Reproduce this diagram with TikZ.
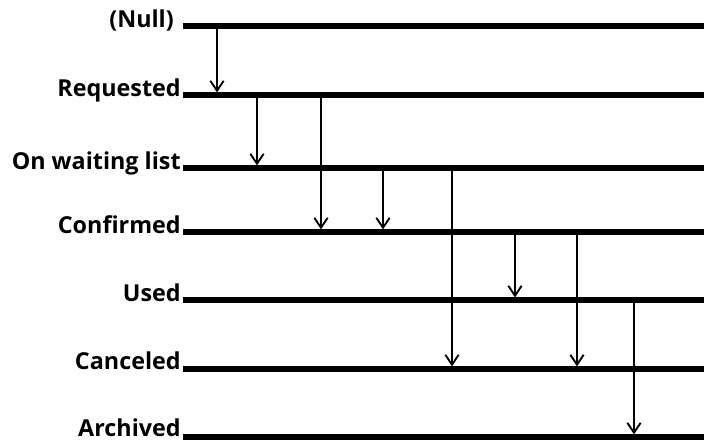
\documentclass[tikz,border=0pt]{standalone}
\usepackage{fontspec}
\setmainfont{Open Sans}
\usetikzlibrary{arrows.meta}
\definecolor{ink}{RGB}{0,0,0}
\tikzset{
  every picture/.style={color=ink, x=0.75pt, y=-0.75pt},
  state/.style={anchor=base east, inner sep=0pt, font=\bfseries\fontsize{17.5pt}{20pt}\selectfont},
  track/.style={line width=3.8pt},
  flow/.style={-{Straight Barb[length=7.5pt,width=10pt,line width=1.4pt]}, line width=1.4pt, shorten <=-1.5pt},
}

\begin{document}
\begin{tikzpicture}
  \useasboundingbox (0,0) rectangle (704,441);
  \coordinate (rightend) at (704,0);
  \node[state] (tnul) at (174,28) {(Null)};
  \node[state] (treq) at (181,97) {Requested};
  \node[state] (twait) at (181,170) {On waiting list};
  \node[state] (tconf) at (181,234) {Confirmed};
  \node[state] (tused) at (181,302) {Used};
  \node[state] (tcanc) at (181,370) {Canceled};
  \node[state] (tarch) at (181,437) {Archived};
  \coordinate (nul) at (183,26);
  \coordinate (req) at (183,95);
  \coordinate (wait) at (183,168);
  \coordinate (conf) at (183,232);
  \coordinate (used) at (183,300);
  \coordinate (canc) at (183,369);
  \coordinate (arch) at (183,437);
  \foreach \s in {nul,req,wait,conf,used,canc,arch}
    \draw[track] (\s) -- (\s -| rightend);
  \foreach \x/\a/\b in {217/nul/req, 257/req/wait, 321/req/conf, 383/wait/conf,
                        452/wait/canc, 515/conf/used, 577/conf/canc, 634/used/arch}
    \draw[flow] (\x,0 |- \a) -- ([yshift=1.9pt]\x,0 |- \b);
\end{tikzpicture}
\end{document}
